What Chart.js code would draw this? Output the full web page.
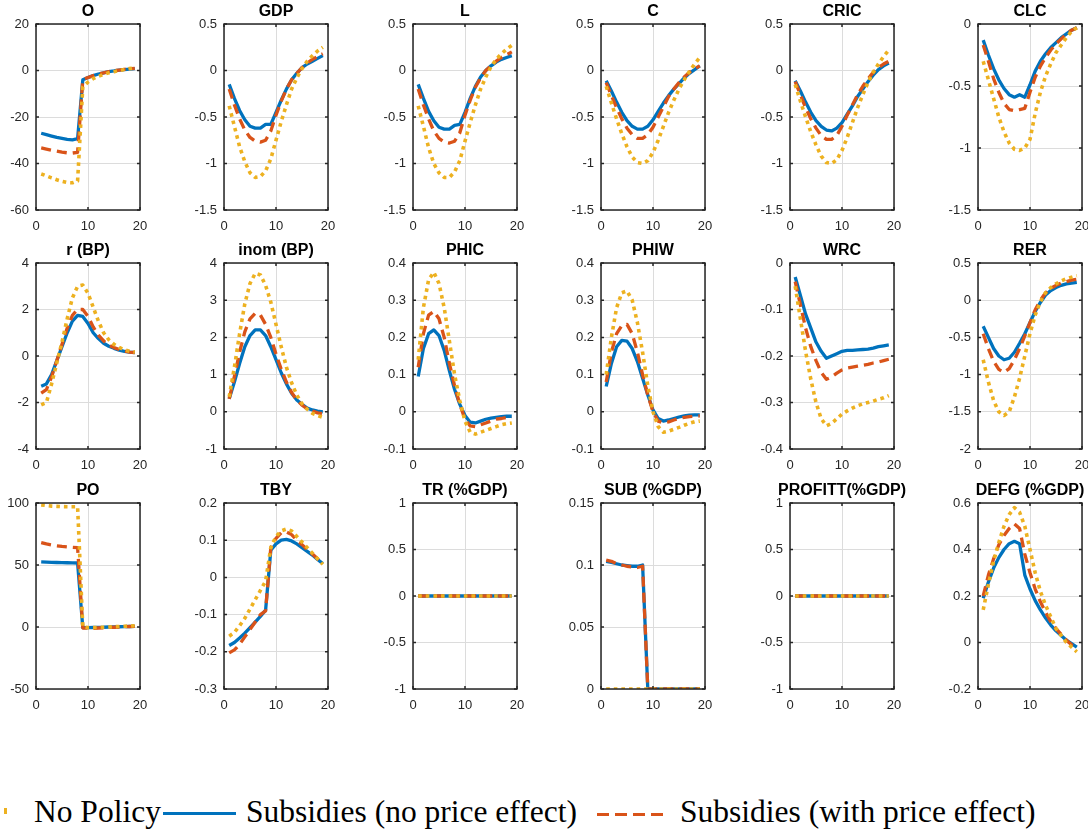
<!DOCTYPE html>
<html>
<head>
<meta charset="utf-8">
<script src="https://cdn.jsdelivr.net/npm/chart.js@4/dist/chart.umd.min.js"></script>
<style>
  body { margin: 0; background: #fff; width: 1088px; height: 831px; position: relative; overflow: hidden; }
  canvas { position: absolute; }
  .lg { position: absolute; top: 796px; font-family: "Liberation Serif", "Times New Roman", serif; font-size: 31.5px; line-height: 1; color: #000; white-space: nowrap; }
  .sw { position: absolute; }
</style>
</head>
<body>
<div class="sw" style="left:4px;top:808px;width:3px;height:6px;background:#EDB120"></div>
<div class="lg" style="left:34px">No Policy</div>
<div class="sw" style="left:163px;top:812px;width:73px;height:3px;background:#0072BD"></div>
<div class="lg" style="left:246px">Subsidies (no price effect)</div>
<div class="sw" style="left:597px;top:813px;width:66px;height:3px;background:repeating-linear-gradient(90deg,#D95319 0 12px,transparent 12px 18px)"></div>
<div class="lg" style="left:680px">Subsidies (with price effect)</div>
<script>
const periods = [1, 2, 3, 4, 5, 6, 7, 8, 9, 10, 11, 12, 13, 14, 15, 16, 17, 18, 19];

const titles = ['O', 'GDP', 'L', 'C', 'CRIC', 'CLC',
                'r (BP)', 'inom (BP)', 'PHIC', 'PHIW', 'WRC', 'RER',
                'PO', 'TBY', 'TR (%GDP)', 'SUB (%GDP)', 'PROFITT(%GDP)', 'DEFG (%GDP)'];

// y axis limits and tick step for each panel
const yMin  = [-60, -1.5, -1.5, -1.5, -1.5, -1.5,  -4, -1, -0.1, -0.1, -0.4, -2,  -50, -0.3, -1, 0,    -1, -0.2];
const yMax  = [ 20,  0.5,  0.5,  0.5,  0.5,  0,     4,  4,  0.4,  0.4,  0,    0.5, 100,  0.2,  1, 0.15,  1,  0.6];
const yStep = [ 20,  0.5,  0.5,  0.5,  0.5,  0.5,   2,  1,  0.1,  0.1,  0.1,  0.5,  50,  0.1, 0.5, 0.05, 0.5, 0.2];

const zeros = [0, 0, 0, 0, 0, 0, 0, 0, 0, 0, 0, 0, 0, 0, 0, 0, 0, 0, 0];

// No Policy (yellow, dotted)
const noPolicy = [
  [-44.5, -45.3, -46.2, -47, -47.7, -48.2, -48.3, -47.5, -7, -5, -3.5, -2.5, -1.7, -1, -0.5, 0, 0.4, 0.8, 1.2],
  [-0.38, -0.6, -0.82, -0.98, -1.1, -1.15, -1.14, -1.08, -0.95, -0.75, -0.55, -0.37, -0.2, -0.08, 0.02, 0.1, 0.16, 0.21, 0.25],
  [-0.38, -0.6, -0.83, -1.0, -1.1, -1.15, -1.15, -1.09, -0.97, -0.76, -0.56, -0.37, -0.2, -0.07, 0.04, 0.12, 0.18, 0.23, 0.27],
  [-0.17, -0.35, -0.52, -0.68, -0.82, -0.93, -0.99, -1.0, -0.97, -0.88, -0.75, -0.6, -0.45, -0.32, -0.2, -0.1, -0.01, 0.07, 0.14],
  [-0.15, -0.33, -0.5, -0.66, -0.8, -0.92, -0.99, -1.0, -0.96, -0.86, -0.72, -0.56, -0.4, -0.26, -0.13, -0.02, 0.07, 0.15, 0.22],
  [-0.3, -0.45, -0.6, -0.75, -0.87, -0.96, -1.01, -1.02, -1.0, -0.93, -0.72, -0.55, -0.42, -0.32, -0.23, -0.17, -0.11, -0.06, -0.03],
  [-2.1, -2.0, -1.2, -0.3, 0.6, 1.6, 2.5, 3.0, 3.05, 2.7, 2.1, 1.5, 1.0, 0.7, 0.5, 0.37, 0.27, 0.2, 0.17],
  [0.4, 1.2, 2.1, 2.9, 3.45, 3.72, 3.68, 3.4, 2.95, 2.35, 1.75, 1.2, 0.78, 0.45, 0.22, 0.07, -0.04, -0.1, -0.15],
  [0.14, 0.28, 0.355, 0.375, 0.345, 0.28, 0.19, 0.1, 0.03, -0.025, -0.055, -0.06, -0.055, -0.05, -0.045, -0.04, -0.035, -0.032, -0.03],
  [0.1, 0.2, 0.28, 0.32, 0.325, 0.3, 0.24, 0.16, 0.07, 0.0, -0.04, -0.055, -0.052, -0.047, -0.042, -0.036, -0.031, -0.027, -0.025],
  [-0.05, -0.12, -0.19, -0.25, -0.3, -0.335, -0.35, -0.345, -0.335, -0.325, -0.318, -0.312, -0.307, -0.303, -0.3, -0.297, -0.293, -0.29, -0.285],
  [-0.8, -1.1, -1.35, -1.5, -1.55, -1.5, -1.3, -1.05, -0.75, -0.45, -0.2, -0.02, 0.1, 0.17, 0.22, 0.26, 0.29, 0.31, 0.33],
  [98.5, 98, 97.5, 97.3, 97.1, 97, 97, 97, 0, -0.5, -0.5, -0.3, -0.2, 0, 0.2, 0.4, 0.6, 0.8, 1],
  [-0.158, -0.148, -0.13, -0.11, -0.085, -0.06, -0.035, -0.01, 0.08, 0.11, 0.125, 0.13, 0.125, 0.11, 0.095, 0.08, 0.065, 0.05, 0.035],
  zeros,
  zeros,
  zeros,
  [0.14, 0.25, 0.35, 0.43, 0.5, 0.55, 0.58, 0.56, 0.5, 0.4, 0.3, 0.22, 0.16, 0.11, 0.06, 0.03, 0.0, -0.02, -0.04]
];

// Subsidies (no price effect) (blue, solid)
const subsNoPrice = [
  [-27, -27.6, -28.2, -28.8, -29.2, -29.6, -29.8, -29.3, -4, -3, -2.2, -1.5, -1, -0.5, -0.2, 0.2, 0.4, 0.6, 0.8],
  [-0.15, -0.3, -0.43, -0.53, -0.6, -0.62, -0.62, -0.58, -0.58, -0.45, -0.32, -0.2, -0.1, -0.03, 0.03, 0.07, 0.1, 0.13, 0.16],
  [-0.15, -0.3, -0.44, -0.54, -0.61, -0.63, -0.63, -0.59, -0.58, -0.45, -0.3, -0.17, -0.07, 0, 0.05, 0.09, 0.12, 0.14, 0.16],
  [-0.11, -0.22, -0.34, -0.45, -0.54, -0.6, -0.63, -0.63, -0.6, -0.53, -0.44, -0.35, -0.27, -0.2, -0.14, -0.08, -0.03, 0.01, 0.05],
  [-0.11, -0.22, -0.34, -0.45, -0.54, -0.6, -0.64, -0.65, -0.62, -0.56, -0.47, -0.38, -0.28, -0.2, -0.12, -0.05, 0.01, 0.05, 0.08],
  [-0.13, -0.25, -0.36, -0.45, -0.52, -0.57, -0.59, -0.57, -0.59, -0.49, -0.38, -0.3, -0.24, -0.19, -0.15, -0.11, -0.08, -0.05, -0.03],
  [-1.3, -1.2, -0.8, -0.2, 0.4, 1.0, 1.5, 1.75, 1.7, 1.4, 1.0, 0.75, 0.55, 0.42, 0.33, 0.25, 0.2, 0.17, 0.15],
  [0.35, 0.8, 1.3, 1.75, 2.05, 2.2, 2.2, 2.05, 1.75, 1.4, 1.05, 0.75, 0.5, 0.32, 0.2, 0.1, 0.05, 0.02, 0.0],
  [0.095, 0.17, 0.21, 0.22, 0.205, 0.165, 0.11, 0.06, 0.02, -0.01, -0.028, -0.03, -0.025, -0.02, -0.017, -0.015, -0.013, -0.012, -0.012],
  [0.068, 0.13, 0.175, 0.192, 0.19, 0.17, 0.135, 0.09, 0.045, 0.005, -0.018, -0.025, -0.022, -0.018, -0.014, -0.011, -0.009, -0.008, -0.008],
  [-0.03, -0.07, -0.11, -0.14, -0.17, -0.19, -0.205, -0.2, -0.195, -0.19, -0.188, -0.188, -0.187, -0.186, -0.185, -0.183, -0.18, -0.178, -0.176],
  [-0.35, -0.5, -0.65, -0.75, -0.8, -0.78, -0.7, -0.58, -0.45, -0.3, -0.15, -0.03, 0.07, 0.13, 0.17, 0.2, 0.22, 0.23, 0.24],
  [52.5, 52.3, 52.1, 52, 51.9, 51.8, 51.7, 51.6, -0.5, -0.5, -0.4, -0.3, -0.2, 0, 0.1, 0.2, 0.3, 0.4, 0.5],
  [-0.183, -0.175, -0.163, -0.15, -0.135, -0.12, -0.105, -0.088, 0.073, 0.09, 0.1, 0.102, 0.098, 0.09, 0.08, 0.07, 0.06, 0.048, 0.037],
  zeros,
  [0.103, 0.102, 0.101, 0.1, 0.0995, 0.099, 0.099, 0.1, 0, 0, 0, 0, 0, 0, 0, 0, 0, 0, 0],
  zeros,
  [0.19, 0.26, 0.32, 0.365, 0.4, 0.425, 0.435, 0.425, 0.29, 0.23, 0.18, 0.14, 0.105, 0.075, 0.05, 0.03, 0.01, -0.005, -0.02]
];

// Subsidies (with price effect) (orange, dashed)
const subsWithPrice = [
  [-33.3, -33.8, -34.3, -34.7, -35.1, -35.4, -35.5, -35.2, -4, -3, -2.2, -1.5, -1, -0.5, -0.1, 0.2, 0.5, 0.7, 0.9],
  [-0.2, -0.37, -0.52, -0.64, -0.72, -0.76, -0.77, -0.75, -0.65, -0.48, -0.33, -0.2, -0.1, -0.03, 0.03, 0.08, 0.12, 0.15, 0.18],
  [-0.2, -0.37, -0.52, -0.65, -0.73, -0.77, -0.78, -0.76, -0.67, -0.48, -0.32, -0.18, -0.08, 0, 0.05, 0.1, 0.14, 0.17, 0.2],
  [-0.13, -0.27, -0.4, -0.52, -0.62, -0.69, -0.73, -0.73, -0.69, -0.61, -0.5, -0.39, -0.28, -0.2, -0.13, -0.07, -0.02, 0.02, 0.05],
  [-0.12, -0.26, -0.4, -0.52, -0.62, -0.7, -0.74, -0.74, -0.7, -0.6, -0.48, -0.37, -0.26, -0.17, -0.09, -0.02, 0.03, 0.07, 0.1],
  [-0.17, -0.3, -0.44, -0.55, -0.64, -0.69, -0.7, -0.69, -0.68, -0.55, -0.43, -0.34, -0.27, -0.21, -0.16, -0.12, -0.08, -0.05, -0.03],
  [-1.6, -1.45, -0.9, -0.2, 0.5, 1.2, 1.75, 2.0, 2.0, 1.7, 1.25, 0.9, 0.65, 0.47, 0.36, 0.28, 0.22, 0.17, 0.15],
  [0.35, 0.95, 1.6, 2.15, 2.5, 2.65, 2.6, 2.35, 2.0, 1.55, 1.15, 0.8, 0.52, 0.32, 0.18, 0.08, 0.02, -0.03, -0.05],
  [0.12, 0.21, 0.26, 0.27, 0.25, 0.2, 0.13, 0.07, 0.02, -0.02, -0.038, -0.04, -0.035, -0.03, -0.025, -0.02, -0.018, -0.015, -0.015],
  [0.08, 0.16, 0.21, 0.232, 0.235, 0.21, 0.16, 0.1, 0.045, 0.0, -0.025, -0.03, -0.027, -0.022, -0.018, -0.015, -0.013, -0.012, -0.011],
  [-0.04, -0.09, -0.14, -0.18, -0.21, -0.235, -0.25, -0.245, -0.237, -0.23, -0.226, -0.224, -0.222, -0.22, -0.218, -0.215, -0.213, -0.21, -0.207],
  [-0.45, -0.65, -0.82, -0.93, -0.97, -0.92, -0.8, -0.65, -0.48, -0.3, -0.13, 0.0, 0.1, 0.16, 0.2, 0.23, 0.25, 0.27, 0.28],
  [68, 67, 66.2, 65.5, 65, 64.6, 64.3, 64, -0.8, -1, -1, -0.8, -0.6, -0.4, -0.2, 0, 0.2, 0.4, 0.5],
  [-0.203, -0.195, -0.18, -0.16, -0.14, -0.12, -0.1, -0.09, 0.08, 0.105, 0.12, 0.122, 0.115, 0.1, 0.088, 0.075, 0.063, 0.05, 0.04],
  zeros,
  [0.104, 0.103, 0.101, 0.1, 0.099, 0.0985, 0.098, 0.099, 0, 0, 0, 0, 0, 0, 0, 0, 0, 0, 0],
  zeros,
  [0.2, 0.29, 0.36, 0.42, 0.46, 0.49, 0.51, 0.49, 0.38, 0.3, 0.23, 0.175, 0.13, 0.09, 0.06, 0.035, 0.01, -0.01, -0.025]
];

// panel geometry (plot box)
const colLeft = [36, 224, 413, 601, 790, 978];
const rowTop = [24, 263, 503];
const plotW = 104, plotH = 186;
const yAxisW = 40, titleH = 24, xAxisH = 28, padRight = 22;

const fmt = v => String(parseFloat(Number(v).toFixed(4)));
const tickFont = { family: 'Liberation Sans, Arial, sans-serif', size: 13 };

// box around the axes with small inward tick marks and a title centred on the box, MATLAB style
const frame = {
  id: 'frame',
  afterDatasetsDraw(chart, args, opts) {
    const { ctx, chartArea: a, scales: { x, y } } = chart;
    ctx.save();
    ctx.strokeStyle = '#262626';
    ctx.lineWidth = 1.5;
    ctx.strokeRect(a.left, a.top, a.right - a.left, a.bottom - a.top);
    ctx.beginPath();
    y.ticks.forEach(t => {
      const p = y.getPixelForValue(t.value);
      ctx.moveTo(a.left, p); ctx.lineTo(a.left + 3, p);
      ctx.moveTo(a.right, p); ctx.lineTo(a.right - 3, p);
    });
    x.ticks.forEach(t => {
      const p = x.getPixelForValue(t.value);
      ctx.moveTo(p, a.bottom); ctx.lineTo(p, a.bottom - 3);
      ctx.moveTo(p, a.top); ctx.lineTo(p, a.top + 3);
    });
    ctx.stroke();
    ctx.fillStyle = '#000';
    ctx.font = 'bold 16px "Liberation Sans", Arial, sans-serif';
    ctx.textAlign = 'center';
    ctx.textBaseline = 'middle';
    ctx.fillText(opts.text, (a.left + a.right) / 2, a.top - 12);
    ctx.restore();
  }
};

const pts = vals => vals.map((v, i) => ({ x: periods[i], y: v }));

titles.forEach((title, k) => {
  const col = k % 6, row = Math.floor(k / 6);
  const cv = document.createElement('canvas');
  const w = yAxisW + plotW + padRight, h = titleH + plotH + xAxisH;
  cv.width = w; cv.height = h;
  cv.style.width = w + 'px'; cv.style.height = h + 'px';
  cv.style.left = (colLeft[col] - yAxisW) + 'px';
  cv.style.top = (rowTop[row] - titleH) + 'px';
  document.body.appendChild(cv);

  new Chart(cv, {
    type: 'line',
    data: {
      datasets: [
        { label: 'No Policy', data: pts(noPolicy[k]), borderColor: '#EDB120', borderWidth: 3.6, borderDash: [3.6, 4] },
        { label: 'Subsidies (with price effect)', data: pts(subsWithPrice[k]), borderColor: '#D95319', borderWidth: 3.3, borderDash: [10, 6] },
        { label: 'Subsidies (no price effect)', data: pts(subsNoPrice[k]), borderColor: '#0072BD', borderWidth: 3.3 }
      ]
    },
    options: {
      responsive: false,
      animation: false,
      events: [],
      elements: { point: { radius: 0 }, line: { tension: 0, borderJoinStyle: 'round' } },
      layout: { padding: { left: 0, right: padRight, top: titleH, bottom: 0 } },
      plugins: {
        legend: { display: false },
        tooltip: { enabled: false },
        title: { display: false },
        frame: { text: title }
      },
      scales: {
        x: {
          type: 'linear', min: 0, max: 20,
          afterFit(s) { s.height = xAxisH; },
          ticks: { stepSize: 10, color: '#262626', font: tickFont, padding: 9, maxRotation: 0, autoSkip: false, callback: fmt },
          grid: { color: '#dcdcdc', drawTicks: false },
          border: { display: false }
        },
        y: {
          min: yMin[k], max: yMax[k],
          afterFit(s) { s.width = yAxisW; },
          ticks: { stepSize: yStep[k], color: '#262626', font: tickFont, padding: 7, autoSkip: false, callback: fmt },
          grid: { color: '#dcdcdc', drawTicks: false },
          border: { display: false }
        }
      }
    },
    plugins: [frame]
  });
});
</script>
</body>
</html>
